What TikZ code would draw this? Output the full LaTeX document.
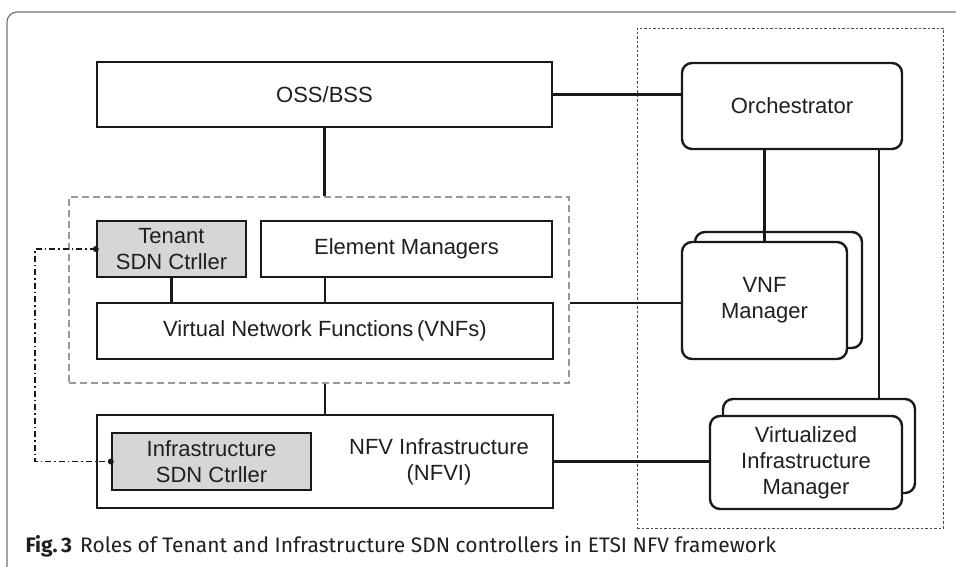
\documentclass[tikz,border=0pt]{standalone}
\usepackage{fontspec}
\setmainfont{Liberation Sans}
\newfontfamily\capfont{Fira Sans}
\begin{document}
\begin{tikzpicture}[x=1pt, y=-1pt,
  box/.style = {draw=black!90, line width=2.4pt, fill=white, inner sep=0pt,
    align=center, text=black!88, font=\fontsize{22}{26}\selectfont},
  ctrl/.style = {box, fill=black!16},
  mgr/.style = {box, rounded corners=10pt},
  link/.style = {draw=black!90, line width=2.4pt},
  ctrllink/.style = {draw=black!90, line width=1.3pt,
    dash pattern=on 6pt off 3pt on 1.5pt off 3pt}]
  \useasboundingbox (0,0) rectangle (956,567);
  \draw[black!55, line width=1.2pt, rounded corners=10pt] (7,575) -- (7,12) -- (970,12);
  \node[draw=black!70, line width=0.9pt, dash pattern=on 2.5pt off 2pt, inner sep=0pt,
    minimum width=306pt, minimum height=500pt] (mano) at (790,278) {};
  \node[draw=black!40, line width=2pt, dash pattern=on 7pt off 4pt, inner sep=0pt,
    minimum width=500pt, minimum height=186pt] (vnfarea) at (319,290) {};

  \node[box, minimum width=455pt, minimum height=65pt] (oss) at (324.5,94.5) {OSS/BSS};
  \node[mgr, minimum width=220pt, minimum height=86pt] (orch) at (792,106) {Orchestrator};
  \node[ctrl, minimum width=149pt, minimum height=56pt] (tenant) at (171.5,249) {Tenant\\SDN Ctrller};
  \node[box, minimum width=291pt, minimum height=56pt] (em) at (406.5,249) {Element Managers};
  \node[box, minimum width=456pt, minimum height=56pt] (vnf) at (325,331) {Virtual Network Functions\,(VNFs)};
  \node[box, minimum width=456pt, minimum height=93pt] (nfvi) at (325,461.5) {};
  \node[align=center, text=black!88, font=\fontsize{22}{26}\selectfont] (nfvitext) at (439,462) {NFV Infrastructure\\(NFVI)};
  \node[ctrl, minimum width=199pt, minimum height=57pt] (infra) at (211.5,461.5) {Infrastructure\\SDN Ctrller};

  \node[mgr, minimum width=167pt, minimum height=116pt] (vnfmback) at (778.5,290) {};
  \node[mgr, minimum width=165pt, minimum height=117pt] (vnfm) at (764.5,300.5) {VNF\\Manager};
  \node[mgr, minimum width=192pt, minimum height=94pt] (vimback) at (819,446) {};
  \node[mgr, minimum width=192pt, minimum height=93pt] (vim) at (806,462.5) {Virtualized\\Infrastructure\\Manager};

  \coordinate (vimtap) at (879,399);
  \coordinate (bend) at (35,0);
  \draw[link] (oss.east) -- (oss.east -| orch.west);
  \draw[link] (oss.south) -- (oss.south |- vnfarea.north);
  \draw[link] (nfvi.north |- vnfarea.south) -- (nfvi.north);
  \draw[link] (tenant.south) -- (tenant.south |- vnf.north);
  \draw[link] (em.south -| vnf.north) -- (vnf.north);
  \draw[link] (vnfarea.east |- 0,303) -- (vnfm.west |- 0,303);
  \draw[link] (nfvi.east) -- (nfvi.east -| vim.west);
  \draw[link] (vnfm.north |- orch.south) -- (vnfm.north);
  \draw[link] (vimtap |- orch.south) -- (vimtap);
  \draw[ctrllink] (tenant.west) -- (tenant.west -| bend) |- (infra.west);
  \fill[black!90] (tenant.west) circle (3pt) (infra.west) circle (3pt);

  \node[anchor=west, text=black!88, font=\capfont\fontsize{21}{25}\selectfont] (caption) at (22,546)
    {\textbf{Fig.\,3}\hspace{8pt}Roles of Tenant and Infrastructure SDN controllers in ETSI NFV framework};
\end{tikzpicture}
\end{document}
